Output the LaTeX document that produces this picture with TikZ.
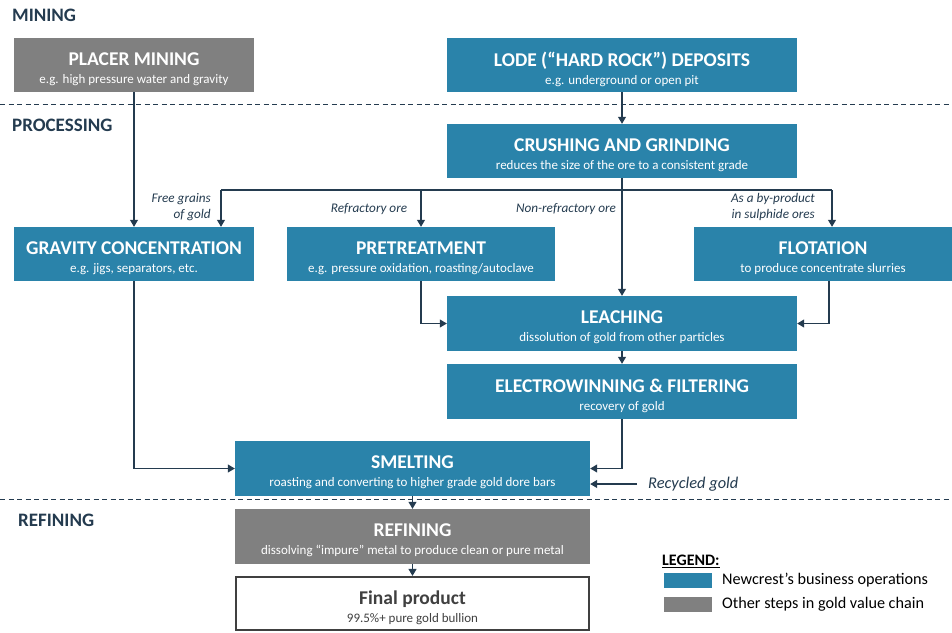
\documentclass[tikz,border=0pt]{standalone}
\usepackage{fontspec}
\setmainfont{Carlito}
\usetikzlibrary{arrows.meta}
\definecolor{nblue}{HTML}{2A83AA}
\definecolor{ngray}{HTML}{808080}
\definecolor{navy}{HTML}{243B4F}
\definecolor{dgray}{HTML}{404040}
\tikzset{
  box/.style={draw=none, inner sep=0pt},
  bluebox/.style={box, fill=nblue},
  graybox/.style={box, fill=ngray},
  finalbox/.style={draw=dgray, line width=2.2pt, fill=white, inner sep=0pt},
  boxtext/.style={align=center, inner sep=0pt, text=white, font=\fontsize{13}{18}\selectfont},
  arr/.style={draw=navy, line width=1.1pt, -{Triangle[width=8pt,length=7pt]}},
  ln/.style={draw=navy, line width=1.1pt},
  sep/.style={draw=navy, line width=0.9pt, dash pattern=on 5pt off 3.5pt},
  sect/.style={anchor=west, text=navy, font=\fontsize{19}{21}\selectfont\bfseries, inner sep=0pt},
  lab/.style={text=navy, font=\fontsize{13.2}{16}\selectfont\itshape, inner sep=0pt, align=right},
}
% #1 box style, #2 name, #3 position, #4 width, #5 height, #6 title, #7 subtitle, #8 text colour
\newcommand{\stage}[8]{%
  \node[#1, minimum width=#4pt, minimum height=#5pt] (#2) at (#3) {};
  \node[boxtext, text=#8] (#2T) at ([yshift=-4pt]#2.center) {{\fontsize{19.5}{21}\selectfont\bfseries #6}\\{\fontsize{13}{15}\selectfont #7}};
}
\begin{document}
\begin{tikzpicture}[x=1pt,y=-1pt]
\useasboundingbox (0,0) rectangle (952,632);
% section labels
\node[sect] (smin) at (12,15) {MINING};
\node[sect] (sproc) at (12,125) {PROCESSING};
\node[sect] (sref) at (18,520) {REFINING};
% separators
\coordinate (d1a) at (0,104); \coordinate (d1b) at (952,104);
\coordinate (d2a) at (0,499); \coordinate (d2b) at (952,499);
\draw[sep] (d1a) -- (d1b);
\draw[sep] (d2a) -- (d2b);
% boxes
\stage{graybox}{placer}{134,65}{240}{54}{PLACER MINING}{e.g. high pressure water and gravity}{white}
\stage{bluebox}{lode}{622,65}{350}{54}{LODE (“HARD ROCK”) DEPOSITS}{e.g. underground or open pit}{white}
\stage{bluebox}{crush}{622,151}{350}{54}{CRUSHING AND GRINDING}{reduces the size of the ore to a consistent grade}{white}
\stage{bluebox}{grav}{134,254}{240}{54}{GRAVITY CONCENTRATION}{e.g. jigs, separators, etc.}{white}
\stage{bluebox}{pre}{421,254}{268}{54}{PRETREATMENT}{e.g. pressure oxidation, roasting/autoclave}{white}
\stage{bluebox}{flot}{823,254}{258}{54}{FLOTATION}{to produce concentrate slurries}{white}
\stage{bluebox}{leach}{622,323.5}{350}{55}{LEACHING}{dissolution of gold from other particles}{white}
\stage{bluebox}{elec}{622,391.5}{350}{55}{ELECTROWINNING \& FILTERING}{recovery of gold}{white}
\stage{bluebox}{smelt}{412.5,468.5}{355}{55}{SMELTING}{roasting and converting to higher grade gold dore bars}{white}
\stage{graybox}{refin}{412.5,536.5}{355}{55}{REFINING}{dissolving “impure” metal to produce clean or pure metal}{white}
\stage{finalbox}{final}{412.5,603.5}{353}{53}{Final product}{99.5\%+ pure gold bullion}{dgray}
% labels
\node[lab, anchor=east] (lfree) at (211,207) {Free grains\\of gold};
\node[lab] (lrefr) at (369,209) {Refractory ore};
\node[lab] (lnon) at (566,209) {Non-refractory ore};
\node[lab, anchor=east] (lby) at (815,207) {As a by-product\\in sulphide ores};
\node[anchor=west, text=navy, font=\fontsize{16.4}{18}\selectfont\itshape, inner sep=0pt] (rec) at (648,484) {Recycled gold};
% connectors
\draw[arr] (placer) -- (grav);
\draw[arr] (lode) -- (crush);
\draw[arr] (crush) -- (leach);
\coordinate (bl) at (221,190);
\coordinate (br) at (832,190);
\draw[ln] (bl) -- (br);
\draw[arr] (bl) -- (bl |- grav.north);
\draw[arr] (pre.north |- bl) -- (pre.north);
\draw[arr] (br) -- (br |- flot.north);
\draw[arr] (pre.south) |- (leach.west);
\draw[arr] ([xshift=6pt]flot.south) |- (leach.east);
\draw[arr] (leach) -- (elec);
\draw[arr] (grav.south) |- (smelt.west);
\draw[arr] (elec.south) |- (smelt.east);
\draw[arr] ([xshift=-11pt]rec.west) -- (rec.west -| smelt.east);
\draw[arr] (smelt) -- (refin);
\draw[arr] (refin) -- (final);
% legend
\node[anchor=west, inner sep=0pt, text=black, font=\fontsize{16}{18}\selectfont\bfseries] (leg) at (662,561) {\underline{LEGEND:}};
\node[fill=nblue, minimum width=48pt, minimum height=15pt, inner sep=0pt] (lb) at (688,580.5) {};
\node[fill=ngray, minimum width=48pt, minimum height=15pt, inner sep=0pt] (lg) at (688,604) {};
\node[anchor=west, inner sep=0pt, text=black, font=\fontsize{16.2}{18}\selectfont] (lbt) at (722,580.5) {Newcrest’s business operations};
\node[anchor=west, inner sep=0pt, text=black, font=\fontsize{16.2}{18}\selectfont] (lgt) at (722,604) {Other steps in gold value chain};
\end{tikzpicture}
\end{document}
